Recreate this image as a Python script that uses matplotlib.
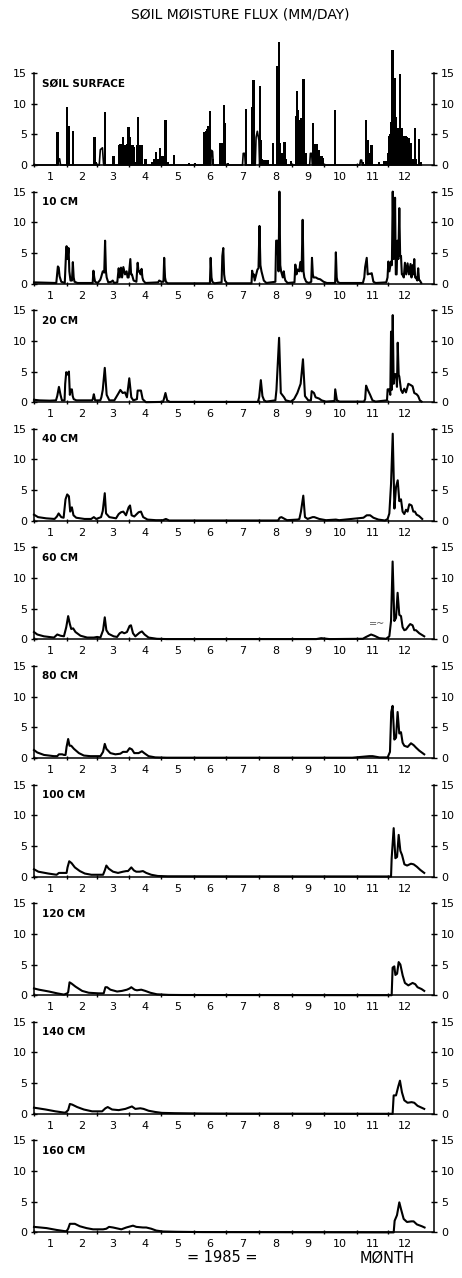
import matplotlib
matplotlib.use('Agg')
import matplotlib.pyplot as plt

plt.rcParams['font.family'] = ['DejaVu Sans']

month_names = ['1', '2', '3', '4', '5', '6', '7', '8', '9', '10', '11', '12']
month_len = [31, 28, 31, 30, 31, 30, 31, 31, 30, 31, 30, 31]

panel_labels = ['SØIL SURFACE', '10 CM', '20 CM', '40 CM', '60 CM',
                '80 CM', '100 CM', '120 CM', '140 CM', '160 CM']

# surface flux, daily bars (day of year, mm/day)
surf = [(22, 5.3), (31, 9.5), (33, 6.4), (37, 5.6),
        (57, 4.5), (58, 0.5), (67, 8.6), (75, 1.5),
        (80, 3.3), (81, 3.4), (82, 3.5), (83, 3.3), (84, 4.6), (85, 3.3), (86, 3.3),
        (87, 3.3), (88, 3.5), (89, 6.2), (90, 4.6), (91, 3.3), (92, 3.3), (93, 3.3),
        (94, 3.0), (95, 0.5), (97, 3.3), (98, 7.9), (99, 3.3), (100, 3.3), (101, 3.3),
        (102, 3.3), (105, 1.0), (111, 0.5), (112, 0.5), (113, 1.0), (115, 2.1),
        (117, 1.0), (119, 2.7), (120, 1.5), (121, 1.5), (124, 7.3), (126, 0.5),
        (132, 1.7), (146, 0.3), (152, 0.3),
        (160, 5.4), (161, 5.4), (162, 5.6), (163, 5.8), (164, 6.3), (165, 6.0),
        (166, 8.8), (169, 1.0), (175, 3.6), (176, 3.6),
        (177, 3.6), (178, 3.6), (179, 9.8), (180, 6.9), (183, 0.3),
        (200, 9.1), (206, 9.5), (207, 13.9), (213, 12.8), (214, 4.0), (215, 1.0),
        (217, 0.8), (218, 0.8), (220, 0.8), (225, 3.6), (229, 16.2), (230, 16.0),
        (231, 20.0), (232, 3.6), (234, 2.0), (236, 3.8), (237, 1.0), (242, 0.7),
        (247, 8.0), (248, 12.1), (249, 9.0), (250, 4.0), (251, 7.4), (252, 7.6),
        (253, 6.0), (254, 14.1), (256, 2.0), (263, 6.8),
        (264, 3.4), (265, 3.4), (266, 2.5), (267, 3.4), (268, 2.5), (269, 1.5),
        (271, 1.5), (272, 1.2), (284, 9.0),
        (310, 0.5), (313, 7.3), (315, 4.0), (316, 2.0), (318, 3.2),
        (325, 0.5), (330, 0.7), (331, 0.7), (332, 0.7), (333, 0.7),
        (334, 2.0), (335, 4.8), (336, 5.0), (337, 7.0), (338, 18.8), (339, 7.5),
        (340, 14.2), (341, 7.8), (342, 6.0), (343, 6.0), (344, 6.0), (345, 14.9),
        (346, 6.0), (347, 6.0), (348, 2.0), (349, 4.8), (350, 4.8), (351, 4.6),
        (352, 4.4), (353, 4.4), (354, 3.6), (355, 3.6), (357, 1.0), (359, 6.0),
        (360, 1.0), (363, 4.3), (365, 0.5)]

# hollow (outlined) low bumps on the surface trace
surf_outline = [(0, 0), (22.5, 0), (23.2, 1.0), (24.2, 1.0), (25, 0), (31.4, 0),
                (31.9, 4.0), (32.4, 0), (61.5, 0), (62.5, 2.5), (64.5, 2.8),
                (65.5, 0.3), (66, 0), (166.6, 0), (167.2, 2.4), (168.3, 2.2),
                (169, 0), (196.5, 0), (197.2, 1.9), (198.6, 1.9), (199.2, 0),
                (208.5, 0), (209.3, 4.5), (210.5, 5.5), (212.0, 4.0), (212.6, 0),
                (259.8, 0), (260.5, 1.9), (261.7, 1.9), (262.3, 0), (307, 0),
                (307.8, 0.8), (308.8, 0.8), (309.4, 0), (365, 0)]

cm10 = [(0, 0.2), (18, 0.1), (21, 0.1), (22.5, 2.8), (23.3, 2.6), (24.1, 1.2),
        (25.7, 0.3), (29, 0.1), (30.2, 5.0), (30.7, 6.1), (31.6, 4.0), (32.6, 5.8),
        (33.3, 2.0), (34.4, 0.5), (35.8, 0.5), (36.6, 3.5), (37.4, 1.0), (38.2, 0.3),
        (41, 0.1), (55.3, 0.1), (56.0, 2.1), (56.8, 1.0), (57.6, 0.3), (60, 0.1),
        (62.4, 0.6), (63.2, 1.0), (64.8, 2.0), (66.2, 1.8), (67.0, 7.0), (67.8, 2.0),
        (68.5, 1.0), (70, 0.2), (73, 0.3), (74.2, 0.5), (75.5, 0.1), (78.5, 0.2),
        (79.8, 2.5), (80.8, 1.0), (82.0, 2.6), (83, 1.0), (84.2, 2.7), (85.8, 1.5),
        (87.3, 2.0), (88.2, 1.0), (89.2, 1.0), (90.8, 4.0), (91.5, 1.5), (92.3, 1.5),
        (93.9, 0.5), (96.5, 0.3), (97.7, 3.4), (98.5, 2.0), (99.2, 2.0), (100.5, 1.5),
        (101.4, 2.4), (102.2, 1.0), (103.0, 0.5), (105, 0.1), (117, 0.2), (118.0, 0.5),
        (120, 0.3), (122.0, 0.3), (122.7, 4.2), (123.5, 1.0), (124.3, 0.3), (126, 0.05),
        (165.8, 0.05), (166.5, 4.2), (167.3, 1.0), (168.1, 0.3), (170, 0.05),
        (176.8, 0.2), (177.5, 4.5), (178.4, 5.8), (179.2, 1.5), (180.0, 0.5),
        (182, 0.05), (205, 0.05), (205.6, 2.1), (206.4, 1.2), (207.2, 1.5), (208, 0.5),
        (209.5, 1.5), (210.6, 2.3), (211.6, 2.5), (212.5, 9.4), (213.4, 3.0),
        (214.4, 2.0), (216.6, 0.5), (219, 0.1), (227.5, 0.3), (228.2, 7.0),
        (229.5, 7.0), (230.5, 2.0), (231.3, 15.0), (232.1, 3.0), (232.9, 2.0),
        (234.5, 1.0), (235.4, 2.0), (236.2, 1.0), (236.9, 0.5), (239, 0.1),
        (245.5, 0.2), (246.3, 3.1), (247.4, 1.5), (248.5, 2.3), (250.0, 2.0),
        (251.0, 3.5), (252.2, 2.0), (253.2, 10.4), (254.0, 2.0), (254.8, 1.0),
        (256.5, 0.3), (259, 0.1), (261.3, 0.3), (262.0, 4.2), (262.8, 1.5),
        (263.5, 1.0), (265.7, 1.0), (267.5, 0.8), (269.8, 0.7), (272.9, 0.3),
        (276, 0.1), (283.8, 0.1), (284.5, 5.1), (285.3, 1.0), (286.1, 0.3), (288, 0.1),
        (310, 0.1), (311.3, 1.0), (312.1, 2.7), (313.6, 4.2), (314.5, 1.5),
        (315.8, 1.6), (317, 1.6), (318.3, 1.7), (319.9, 0.3), (322, 0.1), (332, 0.2),
        (333.2, 1.0), (334.0, 3.6), (335, 2.0), (336.5, 3.6), (337.3, 3.0),
        (338.1, 15.0), (339, 4.0), (340.3, 14.0), (341.0, 1.5), (341.8, 1.5),
        (342.5, 7.0), (343.4, 4.0), (344.3, 12.3), (345.1, 4.5), (345.9, 4.5),
        (346.7, 1.5), (347.4, 1.5), (348.5, 1.0), (349.6, 3.4), (350.8, 1.5),
        (352.1, 3.3), (353.4, 1.5), (354.9, 3.2), (355.8, 1.0), (356.8, 3.0),
        (357.6, 1.5), (358.4, 4.0), (359.2, 1.0), (360.0, 1.0), (361.2, 0.5),
        (362.1, 2.5), (362.9, 0.6), (363.7, 0.5), (365, 0.1)]

cm20 = [(0, 0.4), (5, 0.3), (15, 0.25), (20.7, 0.3), (21.9, 1.0), (23.5, 2.5),
        (25.0, 1.2), (26.3, 0.3), (28.8, 0.3), (29.4, 3.0), (30.4, 4.9), (31.5, 4.5),
        (32.9, 5.0), (33.8, 1.2), (34.4, 2.0), (35.7, 2.1), (36.5, 1.0), (37.4, 0.5),
        (40, 0.3), (54.8, 0.3), (55.4, 0.5), (56.4, 1.3), (57.6, 0.3), (62.5, 0.3),
        (63.5, 0.8), (64.8, 2.0), (66.7, 5.6), (68.5, 1.2), (71.0, 0.3), (75.7, 0.3),
        (79.8, 1.5), (81.4, 2.0), (83.6, 1.5), (85.8, 1.6), (87.6, 0.8), (89.8, 3.9),
        (91.7, 0.8), (93.6, 0.3), (97.0, 0.5), (97.7, 1.9), (100.8, 1.9), (102.4, 0.5),
        (105.5, 0.0), (121.5, 0.05), (122.4, 0.5), (123.9, 1.5), (125.5, 0.3),
        (128, 0.05), (211, 0.05), (212.2, 0.8), (213.8, 3.6), (215.3, 1.0),
        (216.9, 0.3), (219, 0.1), (227.5, 0.3), (228.5, 2.0), (231.0, 10.5),
        (232.6, 1.5), (235.7, 0.8), (237.3, 0.3), (242, 0.1), (245.1, 0.5),
        (248.2, 1.5), (251.3, 3.0), (253.5, 7.0), (255.4, 1.0), (258.5, 0.3),
        (261.0, 0.3), (261.7, 1.8), (263.9, 1.5), (265.4, 0.8), (268.6, 0.6),
        (271.1, 0.3), (275, 0.1), (283.3, 0.2), (283.9, 2.1), (285.5, 0.3),
        (288, 0.1), (311, 0.1), (312.1, 0.5), (313.0, 2.7), (314.6, 2.0),
        (316.8, 1.2), (319.0, 0.3), (322, 0.1), (332.7, 0.3), (333.3, 2.1),
        (334.9, 2.1), (335.8, 1.2), (336.5, 11.5), (337.1, 2.0), (338.1, 14.2),
        (339.0, 3.0), (339.7, 4.5), (341.2, 4.6), (342.1, 2.5), (342.8, 9.7),
        (343.7, 4.5), (344.3, 4.2), (345.9, 2.0), (347.4, 1.5), (349.0, 2.2),
        (350.6, 1.6), (352.8, 3.0), (355.0, 2.8), (356.8, 2.6), (358.4, 1.5),
        (360.6, 1.3), (362.1, 1.0), (363.7, 0.3), (365.3, 0.1)]

cm40 = [(0, 1.0), (3.8, 0.6), (11.6, 0.4), (19.4, 0.3), (21.6, 0.7), (23.2, 1.2),
        (25.7, 0.6), (27.9, 0.5), (29.7, 3.5), (31.3, 4.3), (32.9, 4.0), (34.1, 1.5),
        (35.7, 2.2), (37.2, 0.9), (39.8, 0.5), (47.6, 0.3), (53.9, 0.3), (56.4, 0.6),
        (58.6, 0.3), (63.2, 0.6), (64.8, 1.6), (66.7, 4.5), (67.9, 1.2), (71.0, 0.6),
        (77.3, 0.4), (79.8, 1.1), (82.0, 1.4), (84.2, 1.5), (86.7, 0.9), (89.2, 2.2),
        (90.5, 2.5), (92.0, 0.9), (94.5, 0.7), (98.6, 1.4), (100.8, 1.5), (102.9, 0.6),
        (107.0, 0.2), (114.9, 0.1), (121.4, 0.1), (124.3, 0.3), (127.4, 0.05),
        (230, 0.05), (231.6, 0.5), (233.2, 0.6), (236.3, 0.3), (238.5, 0.1),
        (248.5, 0.2), (250.1, 0.3), (251.6, 1.5), (253.8, 4.1), (255.4, 0.6),
        (257.9, 0.3), (262.6, 0.6), (264.2, 0.6), (268.9, 0.3), (275.2, 0.1),
        (284.5, 0.2), (287.6, 0.1), (310.5, 0.5), (313.6, 0.9), (316.8, 0.9),
        (319.9, 0.5), (324.6, 0.2), (330.8, 0.05), (333.3, 0.3), (334.9, 1.2),
        (336.5, 6.0), (338.1, 14.2), (339.7, 2.0), (341.2, 5.5), (342.8, 6.6),
        (344.3, 3.2), (345.9, 3.5), (347.4, 1.5), (349.0, 1.1), (350.6, 1.8),
        (352.1, 1.5), (353.7, 2.7), (355.9, 2.5), (357.5, 1.5), (359.0, 1.5),
        (360.6, 1.0), (362.8, 0.8), (365.9, 0.3)]

cm60 = [(0, 1.2), (3.1, 0.8), (9.4, 0.5), (18.8, 0.3), (21.9, 0.8), (25.0, 0.6),
        (28.2, 0.5), (30.4, 2.0), (32.2, 3.8), (33.8, 2.5), (35.1, 1.7), (36.9, 1.8),
        (39.1, 1.2), (43.8, 0.6), (50.1, 0.3), (56.3, 0.3), (59.5, 0.4), (62.6, 0.3),
        (65.1, 1.5), (66.7, 3.6), (68.2, 1.5), (70.4, 0.9), (75.1, 0.5), (78.3, 0.4),
        (80.8, 1.0), (82.9, 1.2), (85.1, 1.0), (87.6, 1.2), (90.1, 2.2), (91.4, 2.3),
        (93.3, 1.0), (95.5, 0.5), (99.5, 1.1), (101.7, 1.3), (104.2, 0.8),
        (108.0, 0.3), (115.8, 0.1), (125.2, 0.05), (266.0, 0.05), (270.7, 0.2),
        (278.6, 0.05), (309.9, 0.1), (313.0, 0.4), (317.7, 0.8), (320.8, 0.6),
        (325.5, 0.2), (331.8, 0.1), (334.9, 0.5), (336.5, 3.0), (338.0, 12.7),
        (339.6, 3.0), (341.2, 3.5), (342.7, 7.6), (344.3, 4.0), (345.9, 3.8),
        (347.4, 2.0), (349.0, 1.5), (350.6, 1.6), (353.1, 2.2), (354.6, 2.5),
        (356.8, 2.3), (358.4, 1.5), (360.0, 1.5), (363.1, 1.0), (367.8, 0.5)]

cm80 = [(0, 1.3), (3.1, 0.9), (9.4, 0.5), (18.8, 0.3), (21.9, 0.3), (23.5, 0.6),
        (26.6, 0.6), (28.2, 0.5), (29.7, 0.5), (30.7, 1.8), (32.2, 3.1), (33.5, 2.0),
        (35.1, 2.0), (37.6, 1.5), (42.3, 0.8), (47.0, 0.4), (53.2, 0.3), (62.6, 0.3),
        (65.1, 1.0), (66.7, 2.3), (68.2, 1.5), (72.0, 0.8), (76.7, 0.6), (81.4, 0.7),
        (83.9, 1.0), (87.6, 1.0), (90.1, 1.6), (92.3, 1.4), (94.5, 0.8), (98.6, 0.8),
        (101.7, 1.1), (103.9, 0.8), (108.0, 0.3), (114.3, 0.1), (125.2, 0.05),
        (300, 0.05), (316.1, 0.3), (319.2, 0.3), (325.5, 0.1), (333.3, 0.1),
        (335.5, 1.0), (336.7, 7.5), (338.0, 8.5), (339.6, 3.0), (341.2, 3.3),
        (342.7, 7.5), (344.3, 4.0), (345.9, 4.2), (347.4, 2.5), (349.0, 2.0),
        (352.1, 1.8), (355.3, 2.4), (357.8, 2.1), (360.0, 1.7), (363.1, 1.2),
        (367.8, 0.6)]

cm100 = [(0, 1.2), (4.1, 0.8), (13.5, 0.5), (21.3, 0.3), (23.5, 0.6), (29.1, 0.6),
         (30.7, 0.6), (31.6, 1.5), (33.2, 2.5), (35.4, 2.2), (38.5, 1.5), (43.2, 0.9),
         (47.9, 0.5), (54.1, 0.3), (65.1, 0.3), (66.7, 1.0), (68.2, 1.8), (70.4, 1.3),
         (74.5, 0.8), (79.2, 0.6), (83.9, 0.8), (87.0, 0.9), (88.6, 0.9), (91.7, 1.5),
         (94.2, 1.0), (96.4, 0.8), (99.5, 0.8), (102.7, 0.9), (105.8, 0.6),
         (110.5, 0.3), (116.7, 0.1), (126.1, 0.05), (335.8, 0.02), (336.5, 0.0),
         (337.1, 3.0), (339.0, 7.9), (340.6, 3.0), (342.2, 3.2), (343.7, 6.8),
         (345.3, 4.2), (346.9, 3.5), (349.1, 2.0), (351.6, 1.8), (355.3, 2.1),
         (357.8, 2.0), (360.9, 1.6), (364.0, 1.1), (367.8, 0.6)]

cm120 = [(0, 1.1), (4.7, 0.9), (14.1, 0.6), (21.9, 0.3), (28.2, 0.1), (31.3, 0.3),
         (32.2, 0.5), (33.5, 2.1), (35.4, 1.9), (39.1, 1.4), (45.4, 0.7), (51.6, 0.4),
         (61.0, 0.3), (65.7, 0.3), (67.3, 1.3), (68.9, 1.3), (72.0, 0.9), (78.3, 0.6),
         (82.9, 0.7), (87.6, 0.9), (90.1, 1.1), (91.7, 1.3), (94.8, 0.9), (97.0, 0.8),
         (101.1, 0.9), (104.9, 0.7), (109.6, 0.4), (115.8, 0.15), (126.8, 0.05),
         (139.3, 0.03), (337.1, 0.0), (338.0, 4.5), (339.6, 4.7), (340.6, 3.3),
         (342.2, 3.5), (343.7, 5.4), (345.3, 5.0), (347.5, 3.2), (349.6, 2.0),
         (352.8, 1.6), (356.8, 2.0), (359.3, 1.8), (361.5, 1.3), (365.3, 1.0),
         (367.8, 0.7)]

cm140 = [(0, 1.0), (11.0, 0.7), (20.3, 0.4), (28.2, 0.2), (29.7, 0.2), (32.2, 0.6),
         (33.8, 1.6), (36.0, 1.5), (40.7, 1.1), (47.0, 0.7), (54.8, 0.4), (64.2, 0.4),
         (67.3, 0.9), (69.5, 1.1), (73.6, 0.7), (79.8, 0.6), (86.1, 0.8), (90.8, 1.1),
         (92.3, 1.2), (95.5, 0.8), (100.2, 0.9), (103.3, 0.8), (108.0, 0.5),
         (114.2, 0.3), (120.5, 0.15), (133.0, 0.1), (158.1, 0.05), (189.4, 0.03),
         (338.0, 0.0), (339.0, 3.0), (341.2, 3.0), (343.4, 4.5), (344.9, 5.4),
         (346.8, 3.5), (349.0, 2.2), (352.1, 1.8), (355.9, 1.9), (358.4, 1.8),
         (361.5, 1.3), (365.3, 1.0), (367.8, 0.8)]

cm160 = [(0, 0.9), (11.9, 0.7), (21.3, 0.4), (29.1, 0.2), (30.7, 0.2), (32.2, 0.6),
         (33.8, 1.4), (38.5, 1.4), (43.2, 1.0), (49.5, 0.7), (55.7, 0.5), (65.1, 0.5),
         (68.2, 0.6), (70.7, 0.9), (74.5, 0.8), (82.3, 0.5), (87.0, 0.8), (93.3, 1.1),
         (96.4, 0.9), (102.7, 0.8), (105.8, 0.8), (110.5, 0.6), (115.2, 0.3),
         (121.4, 0.15), (134.0, 0.1), (159.0, 0.05), (339.0, 0.0), (339.9, 1.9),
         (342.1, 2.8), (344.3, 4.9), (345.9, 3.8), (348.4, 2.2), (351.5, 1.7),
         (355.6, 1.8), (357.8, 1.8), (360.9, 1.3), (365.6, 1.0), (368.1, 0.8)]

line_series = [cm10, cm20, cm40, cm60, cm80, cm100, cm120, cm140, cm160]

W, H = 462, 1278
fig = plt.figure(figsize=(W / 100, H / 100), dpi=100)

month_start = [sum(month_len[:i]) for i in range(12)]
month_mid = [month_start[i] + month_len[i] / 2 for i in range(12)]

ax_left, ax_w, ax_h = 34, 400, 92
for k in range(10):
    top = 73 + 118.6 * k
    ax = fig.add_axes([ax_left / W, 1 - (top + ax_h) / H, ax_w / W, ax_h / H])
    if k == 0:
        d, v = zip(*surf)
        ax.bar(d, v, width=2.2, color='black', linewidth=0, clip_on=False)
        d, v = zip(*surf_outline)
        ax.plot(d, v, color='black', lw=1.2, clip_on=False)
    else:
        d, v = zip(*line_series[k - 1])
        ax.plot(d, v, color='black', lw=1.5, clip_on=False)
    ax.set_xlim(0, 377)
    ax.set_ylim(0, 15)
    ax.spines['top'].set_visible(False)
    for s in ['left', 'right', 'bottom']:
        ax.spines[s].set_linewidth(1.1)
    ax.set_yticks([0, 5, 10, 15])
    ax.tick_params(axis='y', direction='inout', length=4, width=1, left=True,
                   right=True, labelleft=True, labelright=True, labelsize=8, pad=3)
    ax.set_xticks(month_start)
    ax.set_xticklabels([])
    ax.set_xticks(month_mid, minor=True)
    ax.set_xticklabels(month_names, minor=True)
    ax.tick_params(axis='x', which='major', direction='inout', length=3, width=1)
    ax.tick_params(axis='x', which='minor', length=0, labelsize=8, pad=5)
    ax.text(8, 13.3, panel_labels[k], fontsize=7.5, fontweight='bold', va='center')

fig.text(240 / W, 1 - 15 / H, 'SØIL MØISTURE FLUX (MM/DAY)', ha='center',
         va='center', fontsize=10)
fig.text(222 / W, 1 - 1258 / H, '= 1985 =', ha='center', va='center', fontsize=10.5)
fig.text(387 / W, 1 - 1258 / H, 'MØNTH', ha='center', va='center', fontsize=10.5)
fig.text(377 / W, 1 - 623 / H, '=~', ha='center', va='center', fontsize=7, color='0.35')

fig.savefig('out.png', dpi=100)
